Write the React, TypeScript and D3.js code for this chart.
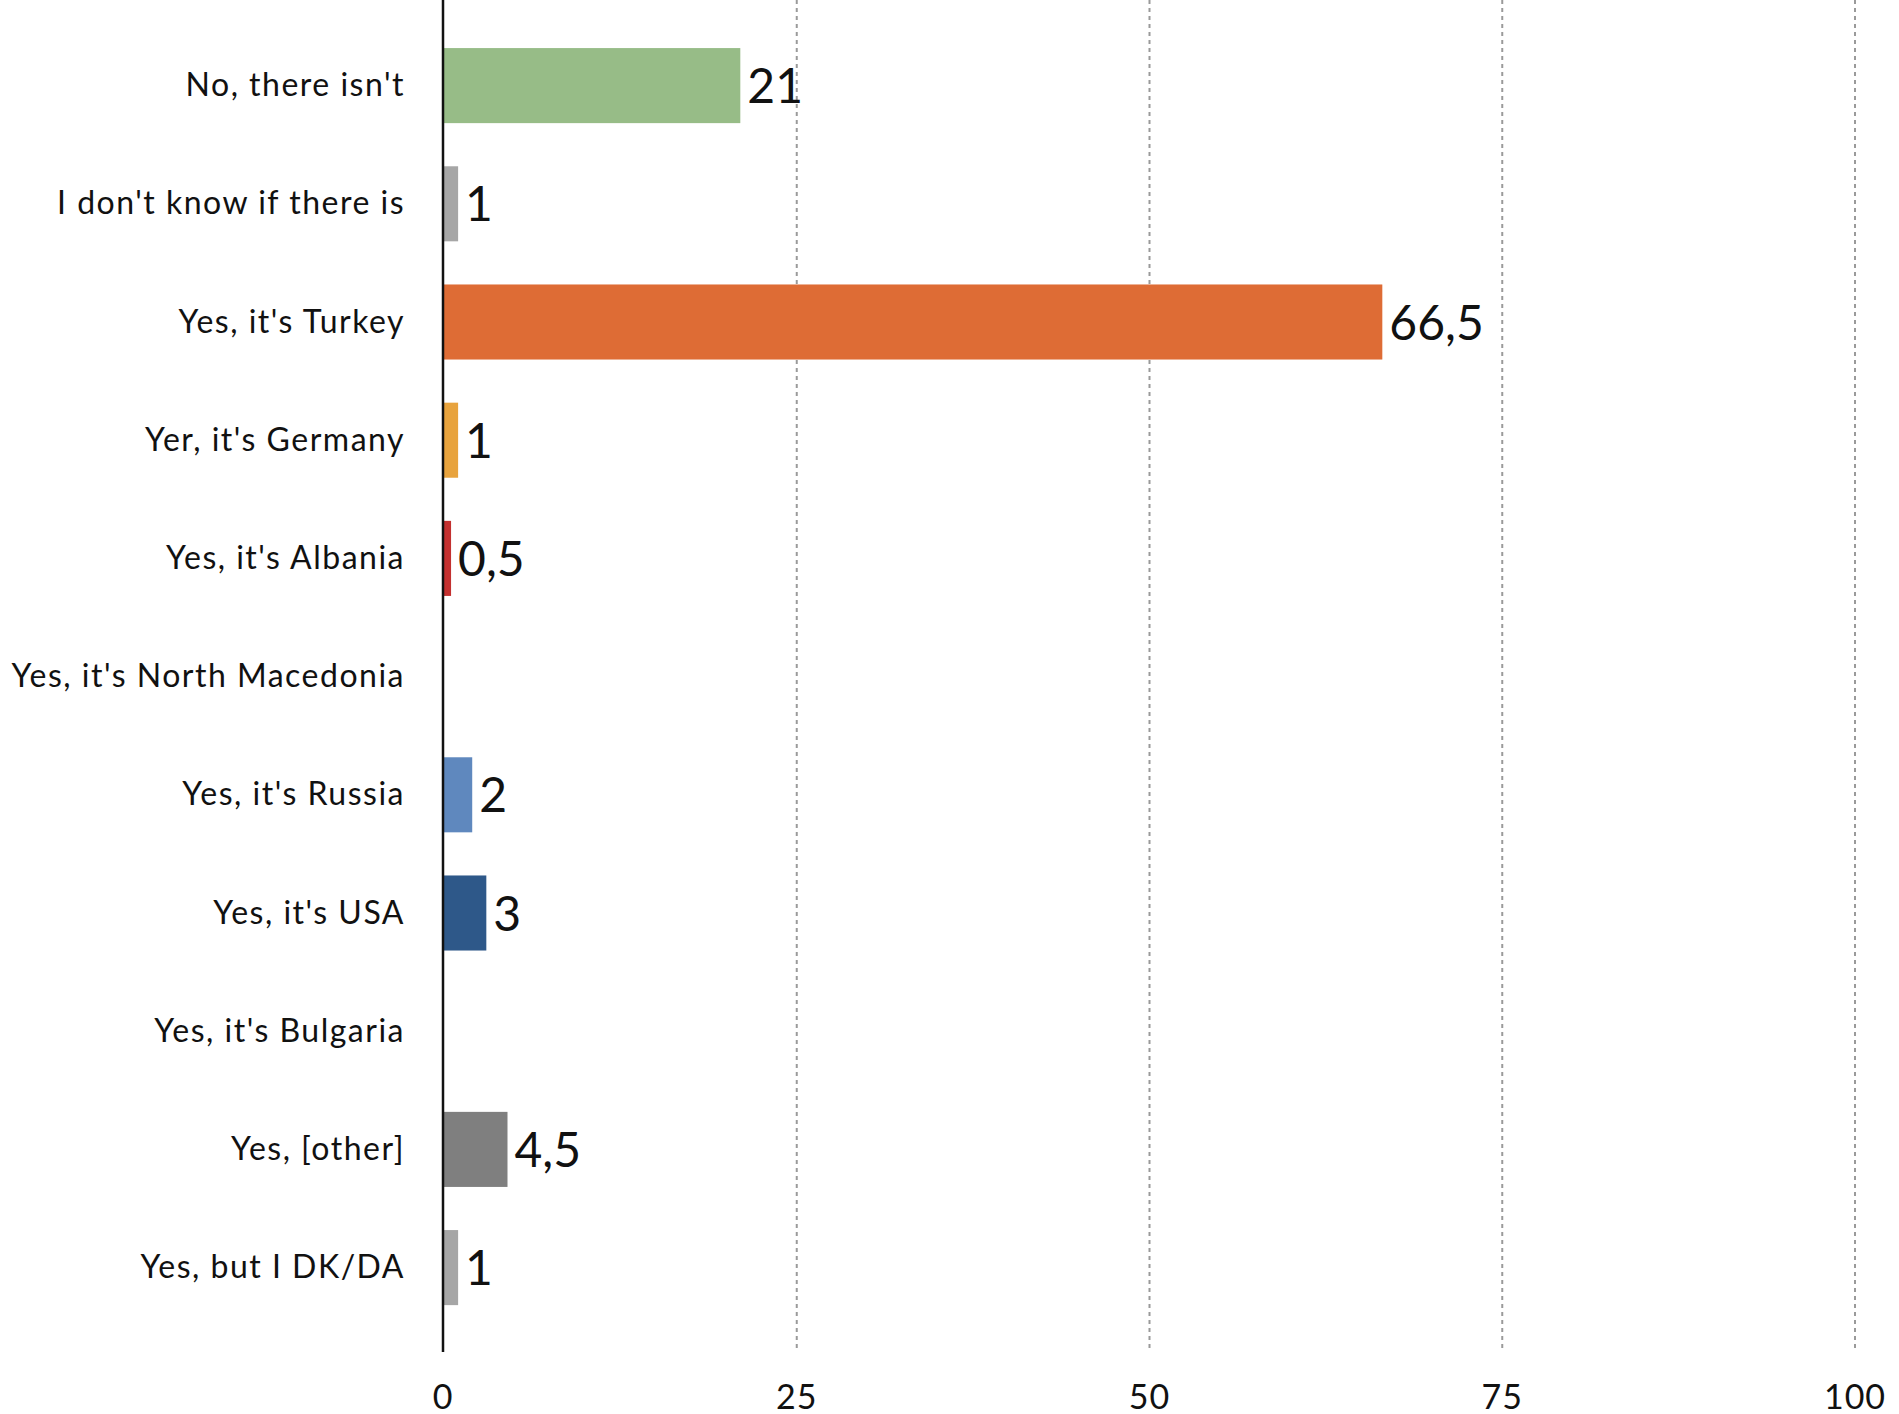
import React from "react";
import * as d3 from "d3";

const categories = [
  "No, there isn't",
  "I don't know if there is",
  "Yes, it's Turkey",
  "Yer, it's Germany",
  "Yes, it's Albania",
  "Yes, it's North Macedonia",
  "Yes, it's Russia",
  "Yes, it's USA",
  "Yes, it's Bulgaria",
  "Yes, [other]",
  "Yes, but I DK/DA",
];
const values: (number | null)[] = [21, 1, 66.5, 1, 0.5, null, 2, 3, null, 4.5, 1];
const colors = [
  "#97BC87",
  "#A6A6A6",
  "#DE6C35",
  "#E8A33D",
  "#C3302F",
  "#A6A6A6",
  "#5F88BE",
  "#2E5889",
  "#A6A6A6",
  "#7F7F7F",
  "#A6A6A6",
];
const ticks = [0, 25, 50, 75, 100];

const W = 1899;
const H = 1414;
const FONT = "Lato, 'Open Sans', sans-serif";

export default function App() {
  const x = d3.scaleLinear().domain([0, 100]).range([444, 1855]);
  const y = d3
    .scaleBand<string>()
    .domain(categories)
    .range([26.5, 26.5 + 118.2 * categories.length])
    .paddingInner(0.365)
    .paddingOuter(0.1825);
  const fmt = (v: number) => String(v).replace(".", ",");
  return (
    <svg
      width={W}
      height={H}
      style={{ position: "absolute", left: 0, top: 0, background: "#fff" }}
    >
      {ticks.slice(1).map((t) => (
        <line
          key={t}
          x1={x(t)}
          x2={x(t)}
          y1={0}
          y2={1350}
          stroke="#9a9a9a"
          strokeWidth={2}
          strokeDasharray="4,4"
        />
      ))}
      {categories.map((c, i) => {
        const v = values[i];
        const yy = y(c)!;
        const bw = y.bandwidth();
        return (
          <g key={c}>
            <text
              x={405}
              y={yy + bw / 2 - 2}
              textAnchor="end"
              dominantBaseline="central"
              fontFamily={FONT}
              fontSize={32}
              letterSpacing={1.5}
              fill="#111"
            >
              {c}
            </text>
            {v != null && (
              <>
                <rect x={x(0)} y={yy} width={x(v) - x(0)} height={bw} fill={colors[i]} />
                <text
                  x={x(v) + 7}
                  y={yy + bw / 2 - 1}
                  dominantBaseline="central"
                  fontFamily={FONT}
                  fontSize={48}
                  fill="#111"
                >
                  {fmt(v)}
                </text>
              </>
            )}
          </g>
        );
      })}
      <line x1={443} x2={443} y1={0} y2={1352} stroke="#111" strokeWidth={2.5} />
      {ticks.map((t) => (
        <text
          key={t}
          x={x(t) - (t === 0 ? 1 : 0)}
          y={1395}
          textAnchor="middle"
          dominantBaseline="central"
          fontFamily={FONT}
          fontSize={34}
          letterSpacing={1}
          fill="#111"
        >
          {t}
        </text>
      ))}
    </svg>
  );
}
